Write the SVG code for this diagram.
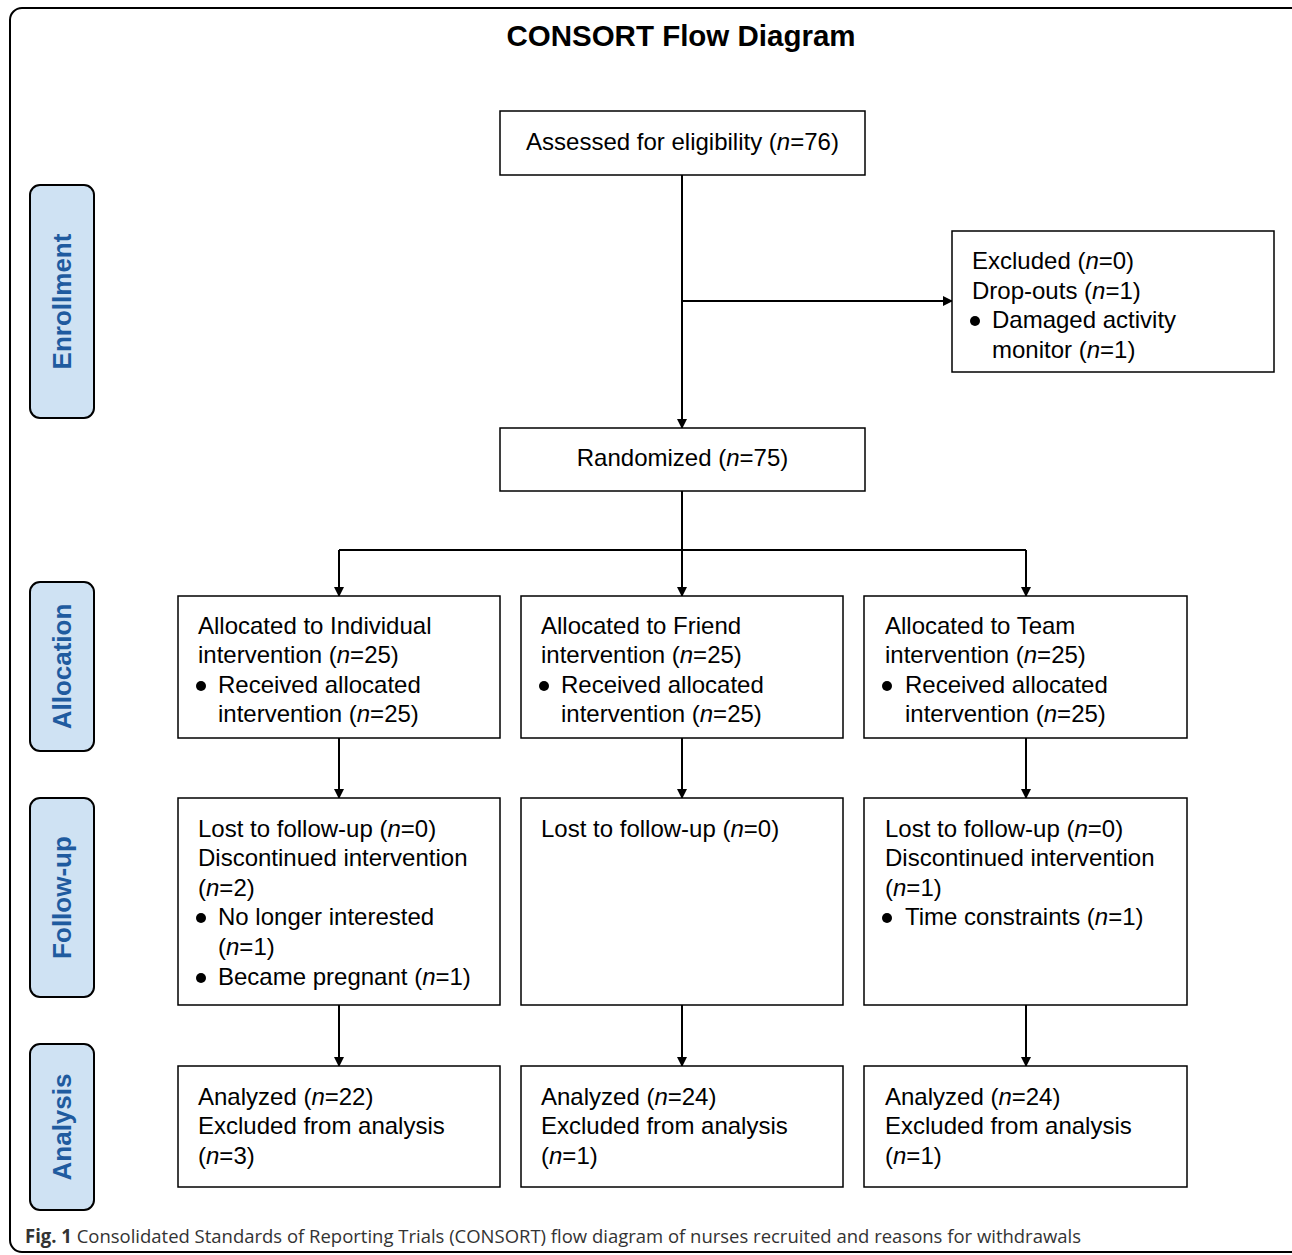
<svg xmlns="http://www.w3.org/2000/svg" width="1292" height="1255" viewBox="0 0 1292 1255">
<defs>
<marker id="ah" markerWidth="10" markerHeight="10" refX="9" refY="5" orient="auto" markerUnits="userSpaceOnUse">
<path d="M0,0 L10,5 L0,10 Z" fill="#000"/>
</marker>
<style>
.box{fill:#fff;stroke:#000;stroke-width:1.5}
.t{font-family:"Liberation Sans",Arial,sans-serif;font-size:24px;fill:#000}
.side{fill:#cfe2f3;stroke:#000;stroke-width:2}
.st{font-family:"Liberation Sans",Arial,sans-serif;font-size:26px;font-weight:bold;fill:#1f5b9f}
.c{fill:none;stroke:#000;stroke-width:2}
.ca{fill:none;stroke:#000;stroke-width:2;marker-end:url(#ah)}
</style>
</defs>
<rect x="10" y="8" width="1300" height="1244" rx="12" fill="#fff" stroke="#000" stroke-width="2"/>
<text x="681" y="46" text-anchor="middle" font-family="Liberation Sans,Arial,sans-serif" font-size="29.5" font-weight="bold">CONSORT Flow Diagram</text>

<g id="side-enrollment"><rect class="side" x="30" y="185" width="64" height="233" rx="10"/><text class="st" transform="translate(71,301.5) rotate(-90)" text-anchor="middle">Enrollment</text></g>
<g id="side-allocation"><rect class="side" x="30" y="582" width="64" height="169" rx="10"/><text class="st" transform="translate(71,666.5) rotate(-90)" text-anchor="middle">Allocation</text></g>
<g id="side-followup"><rect class="side" x="30" y="798" width="64" height="199" rx="10"/><text class="st" transform="translate(71,897.5) rotate(-90)" text-anchor="middle">Follow-up</text></g>
<g id="side-analysis"><rect class="side" x="30" y="1044" width="64" height="166" rx="10"/><text class="st" transform="translate(71,1127) rotate(-90)" text-anchor="middle">Analysis</text></g>

<g id="connectors">
<path class="ca" d="M682,175 V428"/>
<path class="ca" d="M682,301 H952"/>
<path class="c" d="M682,491 V550"/>
<path class="c" d="M339,550 H1026"/>
<path class="ca" d="M339,550 V596"/>
<path class="ca" d="M682,550 V596"/>
<path class="ca" d="M1026,550 V596"/>
<path class="ca" d="M339,738 V798"/>
<path class="ca" d="M682,738 V798"/>
<path class="ca" d="M1026,738 V798"/>
<path class="ca" d="M339,1005 V1066"/>
<path class="ca" d="M682,1005 V1066"/>
<path class="ca" d="M1026,1005 V1066"/>
</g>

<g id="assessed"><rect class="box" x="500" y="111" width="365" height="64"/><text class="t" x="682.5" y="150" text-anchor="middle">Assessed for eligibility (<tspan font-style="italic">n</tspan>=76)</text></g>

<g id="excluded"><rect class="box" x="952" y="231" width="322" height="141"/>
<text class="t" x="972" y="269">Excluded (<tspan font-style="italic">n</tspan>=0)</text>
<text class="t" x="972" y="299">Drop-outs (<tspan font-style="italic">n</tspan>=1)</text>
<circle cx="975" cy="321" r="5"/>
<text class="t" x="992" y="328">Damaged activity</text>
<text class="t" x="992" y="358">monitor (<tspan font-style="italic">n</tspan>=1)</text>
</g>

<g id="randomized"><rect class="box" x="500" y="428" width="365" height="63"/><text class="t" x="682.5" y="466" text-anchor="middle">Randomized (<tspan font-style="italic">n</tspan>=75)</text></g>

<g id="alloc-individual"><rect class="box" x="178" y="596" width="322" height="142"/>
<text class="t" x="198" y="634">Allocated to Individual</text>
<text class="t" x="198" y="663">intervention (<tspan font-style="italic">n</tspan>=25)</text>
<circle cx="201" cy="686" r="5"/>
<text class="t" x="218" y="693">Received allocated</text>
<text class="t" x="218" y="722">intervention (<tspan font-style="italic">n</tspan>=25)</text>
</g>
<g id="alloc-friend"><rect class="box" x="521" y="596" width="322" height="142"/>
<text class="t" x="541" y="634">Allocated to Friend</text>
<text class="t" x="541" y="663">intervention (<tspan font-style="italic">n</tspan>=25)</text>
<circle cx="544" cy="686" r="5"/>
<text class="t" x="561" y="693">Received allocated</text>
<text class="t" x="561" y="722">intervention (<tspan font-style="italic">n</tspan>=25)</text>
</g>
<g id="alloc-team"><rect class="box" x="864" y="596" width="323" height="142"/>
<text class="t" x="885" y="634">Allocated to Team</text>
<text class="t" x="885" y="663">intervention (<tspan font-style="italic">n</tspan>=25)</text>
<circle cx="887" cy="686" r="5"/>
<text class="t" x="905" y="693">Received allocated</text>
<text class="t" x="905" y="722">intervention (<tspan font-style="italic">n</tspan>=25)</text>
</g>

<g id="follow-individual"><rect class="box" x="178" y="798" width="322" height="207"/>
<text class="t" x="198" y="837">Lost to follow-up (<tspan font-style="italic">n</tspan>=0)</text>
<text class="t" x="198" y="866">Discontinued intervention</text>
<text class="t" x="198" y="896">(<tspan font-style="italic">n</tspan>=2)</text>
<circle cx="201" cy="918" r="5"/>
<text class="t" x="218" y="925">No longer interested</text>
<text class="t" x="218" y="955">(<tspan font-style="italic">n</tspan>=1)</text>
<circle cx="201" cy="978" r="5"/>
<text class="t" x="218" y="985">Became pregnant (<tspan font-style="italic">n</tspan>=1)</text>
</g>
<g id="follow-friend"><rect class="box" x="521" y="798" width="322" height="207"/>
<text class="t" x="541" y="837">Lost to follow-up (<tspan font-style="italic">n</tspan>=0)</text>
</g>
<g id="follow-team"><rect class="box" x="864" y="798" width="323" height="207"/>
<text class="t" x="885" y="837">Lost to follow-up (<tspan font-style="italic">n</tspan>=0)</text>
<text class="t" x="885" y="866">Discontinued intervention</text>
<text class="t" x="885" y="896">(<tspan font-style="italic">n</tspan>=1)</text>
<circle cx="887" cy="918" r="5"/>
<text class="t" x="905" y="925">Time constraints (<tspan font-style="italic">n</tspan>=1)</text>
</g>

<g id="analysis-individual"><rect class="box" x="178" y="1066" width="322" height="121"/>
<text class="t" x="198" y="1105">Analyzed (<tspan font-style="italic">n</tspan>=22)</text>
<text class="t" x="198" y="1134">Excluded from analysis</text>
<text class="t" x="198" y="1164">(<tspan font-style="italic">n</tspan>=3)</text>
</g>
<g id="analysis-friend"><rect class="box" x="521" y="1066" width="322" height="121"/>
<text class="t" x="541" y="1105">Analyzed (<tspan font-style="italic">n</tspan>=24)</text>
<text class="t" x="541" y="1134">Excluded from analysis</text>
<text class="t" x="541" y="1164">(<tspan font-style="italic">n</tspan>=1)</text>
</g>
<g id="analysis-team"><rect class="box" x="864" y="1066" width="323" height="121"/>
<text class="t" x="885" y="1105">Analyzed (<tspan font-style="italic">n</tspan>=24)</text>
<text class="t" x="885" y="1134">Excluded from analysis</text>
<text class="t" x="885" y="1164">(<tspan font-style="italic">n</tspan>=1)</text>
</g>

<text x="25" y="1243" font-family="Open Sans,sans-serif" font-size="19" fill="#333" textLength="1056" lengthAdjust="spacingAndGlyphs"><tspan font-weight="bold">Fig. 1</tspan> Consolidated Standards of Reporting Trials (CONSORT) flow diagram of nurses recruited and reasons for withdrawals</text>
</svg>
